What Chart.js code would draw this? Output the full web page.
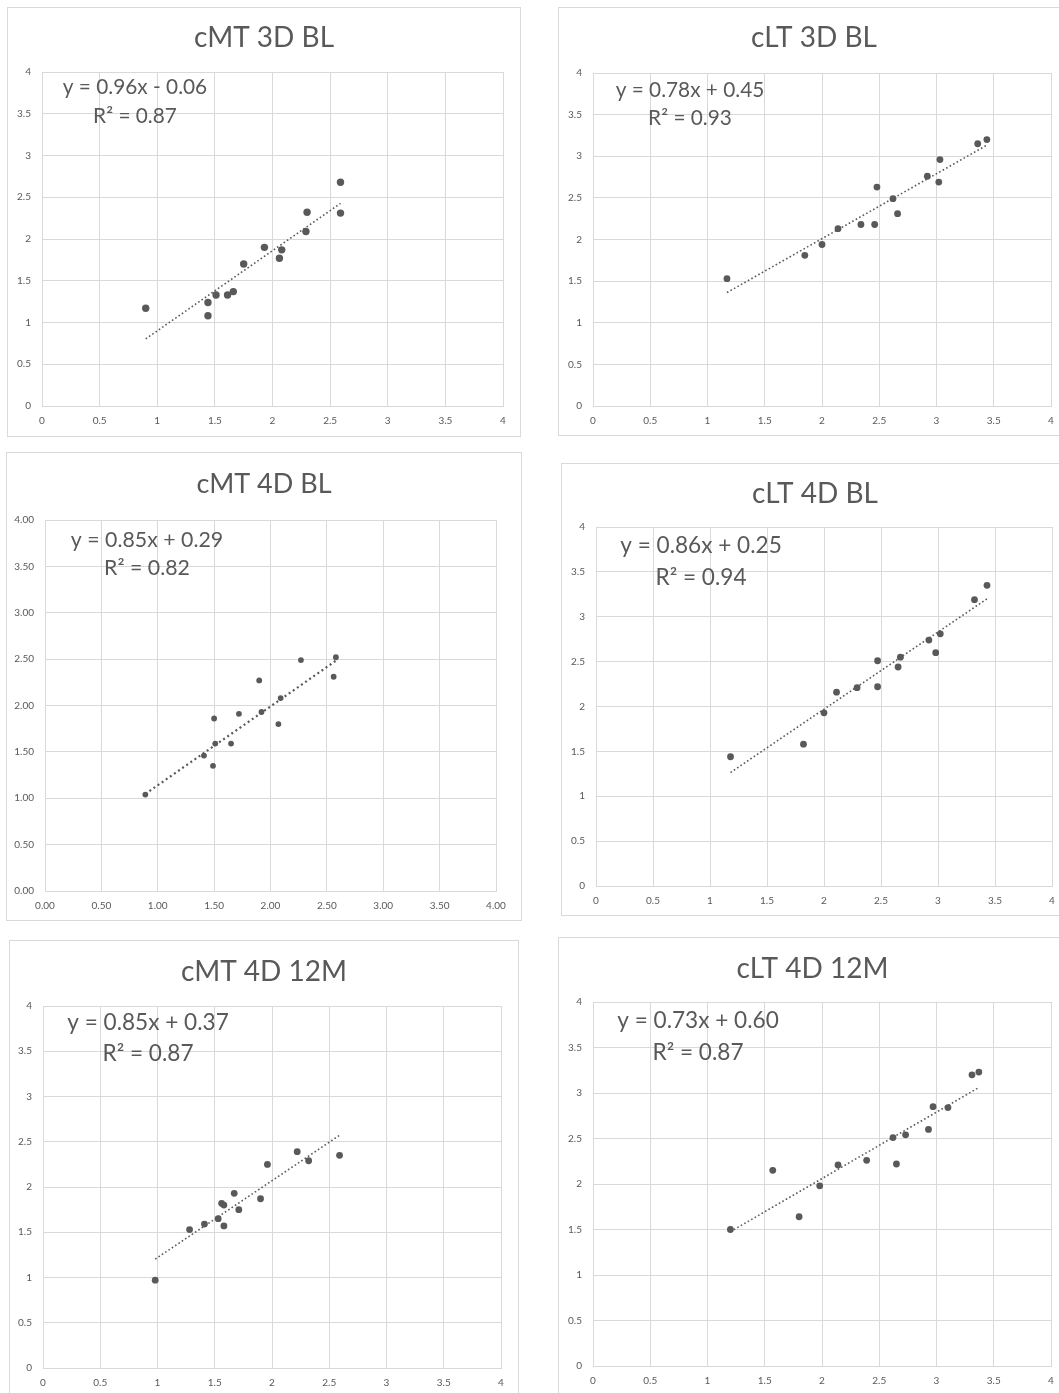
<!DOCTYPE html>
<html>
<head>
<meta charset="utf-8">
<title>cMT / cLT regression panels</title>
<script src="https://cdn.jsdelivr.net/npm/chart.js@4.4.0/dist/chart.umd.min.js"></script>
<style>
  body { margin: 0; background: #fff; width: 1059px; height: 1393px; overflow: hidden; position: relative; }
  .panel { position: absolute; box-sizing: border-box; border: 1px solid #d9d9d9; background: #fff; }
  .panel canvas { display: block; }
</style>
</head>
<body>
<script>
// tick labels, shared by both axes of every panel
const tickPlain = ['0', '0.5', '1', '1.5', '2', '2.5', '3', '3.5', '4'];
const tickFixed = ['0.00', '0.50', '1.00', '1.50', '2.00', '2.50', '3.00', '3.50', '4.00'];

const titles = ['cMT 3D BL', 'cLT 3D BL', 'cMT 4D BL', 'cLT 4D BL', 'cMT 4D 12M', 'cLT 4D 12M'];
const slopes = [0.96, 0.78, 0.85, 0.86, 0.85, 0.73];
const intercepts = [-0.06, 0.45, 0.29, 0.25, 0.37, 0.60];
const rSquared = [0.87, 0.93, 0.82, 0.94, 0.87, 0.87];

const cmt3dBlX = [0.90, 1.44, 1.44, 1.51, 1.61, 1.66, 1.75, 1.93, 2.06, 2.08, 2.29, 2.30, 2.59, 2.59];
const cmt3dBlY = [1.17, 1.24, 1.08, 1.33, 1.33, 1.37, 1.70, 1.90, 1.77, 1.87, 2.09, 2.32, 2.68, 2.31];

const clt3dBlX = [1.17, 1.85, 2.00, 2.14, 2.34, 2.46, 2.48, 2.62, 2.66, 2.92, 3.02, 3.03, 3.36, 3.44];
const clt3dBlY = [1.53, 1.81, 1.94, 2.13, 2.18, 2.18, 2.63, 2.49, 2.31, 2.76, 2.69, 2.96, 3.15, 3.20];

const cmt4dBlX = [0.89, 1.41, 1.49, 1.50, 1.51, 1.65, 1.72, 1.90, 1.92, 2.07, 2.09, 2.27, 2.56, 2.58];
const cmt4dBlY = [1.04, 1.46, 1.35, 1.86, 1.59, 1.59, 1.91, 2.27, 1.93, 1.80, 2.08, 2.49, 2.31, 2.52];

const clt4dBlX = [1.18, 1.82, 2.00, 2.11, 2.29, 2.47, 2.47, 2.65, 2.67, 2.92, 2.98, 3.02, 3.32, 3.43];
const clt4dBlY = [1.44, 1.58, 1.93, 2.16, 2.21, 2.22, 2.51, 2.44, 2.55, 2.74, 2.60, 2.81, 3.19, 3.35];

const cmt4d12mX = [0.98, 1.28, 1.41, 1.53, 1.56, 1.58, 1.58, 1.67, 1.71, 1.90, 1.96, 2.22, 2.32, 2.59];
const cmt4d12mY = [0.97, 1.53, 1.59, 1.65, 1.82, 1.80, 1.57, 1.93, 1.75, 1.87, 2.25, 2.39, 2.29, 2.35];

const clt4d12mX = [1.20, 1.57, 1.80, 1.98, 2.14, 2.39, 2.62, 2.65, 2.73, 2.93, 2.97, 3.10, 3.31, 3.37];
const clt4d12mY = [1.50, 2.15, 1.64, 1.98, 2.21, 2.26, 2.51, 2.22, 2.54, 2.60, 2.85, 2.84, 3.20, 3.23];

const seriesX = [cmt3dBlX, clt3dBlX, cmt4dBlX, clt4dBlX, cmt4d12mX, clt4d12mX];
const seriesY = [cmt3dBlY, clt3dBlY, cmt4dBlY, clt4dBlY, cmt4d12mY, clt4d12mY];

// panel boxes [left, top, width, height] and plot area [left, top, right, bottom], page pixels
const panels = [
  { box: [7, 7, 514, 430],     plot: [42, 72, 503, 406],     titleY: 38,  titleSize: 28, eq: [93, 15], eqSize: 20.8, eqGap: 29, dot: 3.7, ticks: tickPlain },
  { box: [558, 7, 512, 429],   plot: [593, 73, 1051, 406],   titleY: 38,  titleSize: 28, eq: [97, 17], eqSize: 20.8, eqGap: 28, dot: 3.4, ticks: tickPlain },
  { box: [6, 452, 516, 469],   plot: [45, 520, 496, 891],    titleY: 484, titleSize: 27, eq: [102, 20], eqSize: 21.3, eqGap: 28, dot: 2.9, ticks: tickFixed },
  { box: [561, 463, 508, 453], plot: [596, 527, 1052, 886],  titleY: 494, titleSize: 28, eq: [105, 19], eqSize: 22.6, eqGap: 32, dot: 3.4, ticks: tickPlain },
  { box: [9, 940, 510, 480],   plot: [43, 1006, 501, 1368],  titleY: 972, titleSize: 28, eq: [105, 17], eqSize: 22.6, eqGap: 31, dot: 3.4, ticks: tickPlain },
  { box: [558, 937, 509, 480], plot: [593, 1002, 1051, 1366], titleY: 969, titleSize: 28, eq: [105, 19], eqSize: 22.6, eqGap: 32, dot: 3.4, ticks: tickPlain }
];

const FONT = 'Lato, "Open Sans", sans-serif';
const GREY = '#595959';
const GRID = '#d9d9d9';

function equationText(i) {
  const b = intercepts[i];
  const sign = b < 0 ? '- ' : '+ ';
  return 'y = ' + slopes[i].toFixed(2) + 'x ' + sign + Math.abs(b).toFixed(2);
}

// draws the Excel-style trendline label inside the plot area
const trendLabel = {
  id: 'trendLabel',
  afterDatasetsDraw(chart, args, opts) {
    const ctx = chart.ctx;
    const area = chart.chartArea;
    const cx = area.left + opts.offset[0];
    const cy = area.top + opts.offset[1];
    ctx.save();
    ctx.fillStyle = GREY;
    ctx.font = opts.size + 'px ' + FONT;
    ctx.textAlign = 'center';
    ctx.textBaseline = 'middle';
    ctx.fillText(opts.line1, cx, cy);
    ctx.fillText(opts.line2, cx, cy + opts.gap);
    ctx.restore();
  }
};

function makePanel(p, i) {
  const div = document.createElement('div');
  div.className = 'panel';
  div.style.left = p.box[0] + 'px';
  div.style.top = p.box[1] + 'px';
  div.style.width = p.box[2] + 'px';
  div.style.height = p.box[3] + 'px';
  document.body.appendChild(div);

  const w = p.box[2] - 2, h = p.box[3] - 2;
  const canvasLeft = p.box[0] + 1, canvasTop = p.box[1] + 1;
  const canvas = document.createElement('canvas');
  canvas.width = w;
  canvas.height = h;
  div.appendChild(canvas);

  // fixed scale sizes put the plot area where it belongs
  const yWidth = p.plot[0] - canvasLeft;
  const rightGap = canvasLeft + w - p.plot[2];
  const xHeight = canvasTop + h - p.plot[3];
  const titleTop = p.titleY - canvasTop - p.titleSize * 0.6;
  const titleBottom = p.plot[1] - canvasTop - titleTop - p.titleSize * 1.2;

  const xs = seriesX[i], ys = seriesY[i];
  const points = xs.map((x, k) => ({ x: x, y: ys[k] }));
  const xMin = Math.min(...xs), xMax = Math.max(...xs);
  const trend = [xMin, xMax].map(x => ({ x: x, y: slopes[i] * x + intercepts[i] }));

  const axis = (extra) => Object.assign({
    type: 'linear',
    min: 0,
    max: 4,
    grid: { color: GRID, lineWidth: 1, drawTicks: false },
    border: { color: GRID },
    ticks: {
      stepSize: 0.5,
      color: GREY,
      font: { family: FONT, size: 10 },
      callback: (v, idx) => p.ticks[idx]
    }
  }, extra);

  const xAxis = axis({ position: 'bottom', afterFit: s => { s.height = xHeight; } });
  xAxis.ticks.padding = 9;
  xAxis.ticks.maxRotation = 0;
  const yAxis = axis({ position: 'left', afterFit: s => { s.width = yWidth; } });
  yAxis.ticks.padding = 11;

  // empty right-hand axis: only reserves the right margin
  const spacer = {
    type: 'linear',
    position: 'right',
    display: true,
    grid: { display: false, drawOnChartArea: false },
    border: { display: false },
    ticks: { display: false },
    afterFit: s => { s.width = rightGap; }
  };

  new Chart(canvas, {
    type: 'scatter',
    data: {
      datasets: [
        {
          data: trend,
          showLine: true,
          borderColor: GREY,
          borderWidth: i === 2 ? 2.2 : 1.6,
          borderDash: i === 2 ? [2, 3] : [1.6, 2.4],
          pointRadius: 0,
          fill: false
        },
        {
          data: points,
          backgroundColor: GREY,
          borderWidth: 0,
          pointRadius: p.dot,
          pointHoverRadius: p.dot
        }
      ]
    },
    options: {
      responsive: false,
      animation: false,
      devicePixelRatio: 1,
      layout: { padding: 0 },
      scales: { x: xAxis, y: yAxis, spacer: spacer },
      plugins: {
        legend: { display: false },
        tooltip: { enabled: false },
        title: {
          display: true,
          text: titles[i],
          color: GREY,
          font: { family: FONT, size: p.titleSize, weight: 'normal', lineHeight: 1.2 },
          padding: { top: titleTop, bottom: titleBottom }
        },
        trendLabel: {
          offset: p.eq,
          size: p.eqSize,
          gap: p.eqGap,
          line1: equationText(i),
          line2: 'R\u00b2 = ' + rSquared[i].toFixed(2)
        }
      }
    },
    plugins: [trendLabel]
  });
}

panels.forEach(makePanel);
</script>
</body>
</html>
